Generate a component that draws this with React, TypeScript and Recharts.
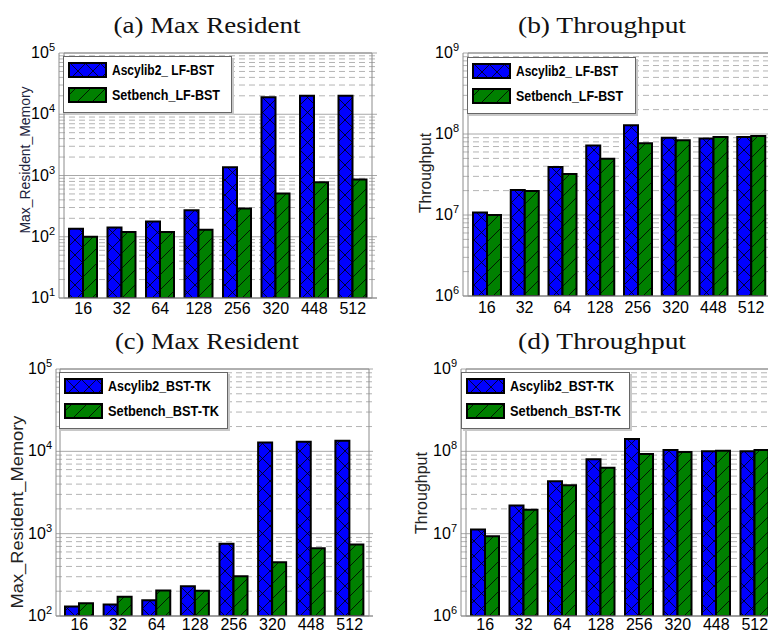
import React from "react";
import { BarChart, Bar, XAxis, YAxis, CartesianGrid, Legend, ReferenceArea } from "recharts";

// thread counts on the x axis
const threads = ["16", "32", "64", "128", "256", "320", "448", "512"];

// (a) LF-BST max resident memory
const lfMemAscylib = [135, 142, 178, 270, 1370, 19000, 20000, 20000];
const lfMemSetbench = [100, 119, 119, 130, 290, 510, 775, 860];
// (b) LF-BST throughput
const lfTputAscylib = [1.07e7, 2.04e7, 3.9e7, 7.2e7, 1.28e8, 9.0e7, 8.8e7, 9.2e7];
const lfTputSetbench = [1.0e7, 1.98e7, 3.2e7, 4.95e7, 7.7e7, 8.35e7, 9.2e7, 9.45e7];
// (c) BST-TK max resident memory
const tkMemAscylib = [130, 138, 155, 229, 755, 12800, 13100, 13400];
const tkMemSetbench = [143, 171, 204, 202, 303, 450, 667, 741];
// (d) BST-TK throughput
const tkTputAscylib = [1.12e7, 2.2e7, 4.34e7, 8.0e7, 1.41e8, 1.04e8, 1.0e8, 1.0e8];
const tkTputSetbench = [9.3e6, 1.95e7, 3.88e7, 6.3e7, 9.3e7, 9.8e7, 1.02e8, 1.04e8];

const lfNames: [string, string] = ["Ascylib2_ LF-BST", "Setbench_LF-BST"];
const tkNames: [string, string] = ["Ascylib2_BST-TK", "Setbench_BST-TK"];

const memDecadesLF = [10, 100, 1000, 10000, 100000];
const memDecadesTK = [100, 1000, 10000, 100000];
const tputDecades = [1e6, 1e7, 1e8, 1e9];

const SANS = "'Liberation Sans', Arial, sans-serif";
const SERIF = "'Liberation Serif', 'Times New Roman', serif";
const FRAME = "#8c8c8c";

function minorsOf(decades: number[]) {
  const out: number[] = [];
  for (let i = 0; i < decades.length - 1; i++) {
    for (let m = 2; m <= 9; m++) out.push(decades[i] * m);
  }
  return out;
}

function rowsOf(a: number[], s: number[]) {
  return threads.map((t, i) => ({ threads: t, ascylib: a[i], setbench: s[i] }));
}

function ThreadTick({ x, y, payload, dy }: any) {
  return (
    <text x={x} y={y + dy} textAnchor="middle" fontFamily={SANS} fontSize={16} fill="#000">
      {payload.value}
    </text>
  );
}

function PowTick({ x, y, payload }: any) {
  const exp = Math.round(Math.log10(payload.value));
  return (
    <text x={x - 4} y={y + 5} textAnchor="end" fontFamily={SANS} fontSize={16} fill="#000">
      10
      <tspan dy={-7} fontSize={11}>
        {exp}
      </tspan>
    </text>
  );
}

function LegendBox({ names, widths }: { names: [string, string]; widths: [number, number] }) {
  const fills = ["url(#hatch-cross)", "url(#hatch-diag)"];
  return (
    <svg width={172} height={60} style={{ display: "block" }}>
      <rect x={2} y={2} width={169} height={57} fill="#c8c8c8" />
      <rect x={0.5} y={0.5} width={168} height={56} fill="#fff" stroke="#666" />
      {names.map((n, i) => (
        <g key={n}>
          <rect x={6} y={7 + i * 25} width={37} height={14} fill={fills[i]} stroke="#000" strokeWidth={2} />
          <text
            x={49}
            y={19 + i * 25}
            fontFamily={SANS}
            fontWeight="bold"
            fontSize={14}
            fill="#000"
            textLength={widths[i]}
            lengthAdjust="spacingAndGlyphs"
          >
            {n}
          </text>
        </g>
      ))}
    </svg>
  );
}

type PanelProps = {
  left: number;
  top: number;
  width: number;
  plotLeft: number;
  plotRight: number;
  xAxisHeight: number;
  tickDy: number;
  pad: number;
  decades: number[];
  rows: { threads: string; ascylib: number; setbench: number }[];
  names: [string, string];
  legendLeft: number;
  legendTop: number;
  legendWidths: [number, number];
};

function Panel(p: PanelProps) {
  const lo = p.decades[0];
  const hi = p.decades[p.decades.length - 1];
  return (
    <div style={{ position: "absolute", left: p.left, top: p.top }}>
      <BarChart
        width={p.width}
        height={316}
        data={p.rows}
        margin={{ top: 53, right: p.width - p.plotRight, bottom: 0, left: 0 }}
        barCategoryGap={5}
        barGap={0}
      >
        <CartesianGrid vertical={false} horizontalValues={minorsOf(p.decades)} stroke="#b4b4b4" strokeDasharray="6 4" />
        <CartesianGrid vertical={false} horizontalValues={p.decades} stroke="#a8a8a8" />
        <ReferenceArea y1={lo} y2={hi} fill="none" stroke={FRAME} strokeWidth={1} />
        <XAxis
          dataKey="threads"
          interval={0}
          padding={{ left: p.pad, right: p.pad }}
          height={p.xAxisHeight}
          tickLine={false}
          tickSize={0}
          tickMargin={0}
          axisLine={{ stroke: FRAME }}
          tick={<ThreadTick dy={p.tickDy} />}
        />
        <YAxis
          scale="log"
          domain={[lo, hi]}
          allowDataOverflow
          ticks={p.decades}
          interval={0}
          width={p.plotLeft}
          tickLine={false}
          tickSize={0}
          tickMargin={0}
          axisLine={{ stroke: FRAME }}
          tick={<PowTick />}
        />
        <Bar dataKey="ascylib" name={p.names[0]} fill="url(#hatch-cross)" stroke="#000" strokeWidth={2} isAnimationActive={false} />
        <Bar dataKey="setbench" name={p.names[1]} fill="url(#hatch-diag)" stroke="#000" strokeWidth={2} isAnimationActive={false} />
        <Legend
          layout="horizontal"
          align="center"
          verticalAlign="middle"
          wrapperStyle={{ left: p.legendLeft, top: p.legendTop, width: 172, height: 60 }}
          content={() => <LegendBox names={p.names} widths={p.legendWidths} />}
        />
      </BarChart>
    </div>
  );
}

function Texts() {
  const titles = [
    { t: "(a) Max Resident", x: 207, y: 33, w: 187 },
    { t: "(b) Throughput", x: 602, y: 33, w: 168 },
    { t: "(c) Max Resident", x: 207, y: 349, w: 184 },
    { t: "(d) Throughput", x: 602, y: 349, w: 168 },
  ];
  const ylabels = [
    { t: "Max_Resident_Memory", x: 25, y: 160, w: 147, fs: 14, c: "#1d2540" },
    { t: "Throughput", x: 425, y: 173, w: 80, fs: 16, c: "#222" },
    { t: "Max_Resident_Memory", x: 17, y: 512, w: 193, fs: 17, c: "#222" },
    { t: "Throughput", x: 421, y: 493, w: 82, fs: 16, c: "#222" },
  ];
  return (
    <svg width={768} height={632} style={{ position: "absolute", left: 0, top: 0, pointerEvents: "none" }}>
      {titles.map((d) => (
        <text
          key={d.t + d.y}
          x={d.x}
          y={d.y}
          textAnchor="middle"
          fontFamily={SERIF}
          fontSize={23}
          fill="#111"
          textLength={d.w}
          lengthAdjust="spacingAndGlyphs"
        >
          {d.t}
        </text>
      ))}
      {ylabels.map((d) => (
        <text
          key={d.t + d.y}
          transform={`translate(${d.x},${d.y}) rotate(-90)`}
          textAnchor="middle"
          dominantBaseline="central"
          fontFamily={SANS}
          fontSize={d.fs}
          fill={d.c}
          textLength={d.w}
          lengthAdjust="spacingAndGlyphs"
        >
          {d.t}
        </text>
      ))}
    </svg>
  );
}

export default function App() {
  return (
    <div style={{ position: "absolute", left: 0, top: 0, width: 768, height: 632, overflow: "hidden", background: "#fff" }}>
      <svg width={0} height={0} style={{ position: "absolute" }}>
        <defs>
          <pattern id="hatch-cross" patternUnits="userSpaceOnUse" width={15} height={15}>
            <rect width={15} height={15} fill="#0000ff" />
            <path d="M0,0 L15,15 M15,0 L0,15" stroke="#000" strokeWidth={0.8} />
          </pattern>
          <pattern id="hatch-diag" patternUnits="userSpaceOnUse" width={15} height={15}>
            <rect width={15} height={15} fill="#008000" />
            <path d="M0,15 L15,0 M-4,4 L4,-4 M11,19 L19,11" stroke="#000" strokeWidth={0.8} />
          </pattern>
        </defs>
      </svg>
      <Panel
        left={0}
        top={0}
        width={384}
        plotLeft={59}
        plotRight={377}
        xAxisHeight={18}
        tickDy={16}
        pad={5}
        decades={memDecadesLF}
        rows={rowsOf(lfMemAscylib, lfMemSetbench)}
        names={lfNames}
        legendLeft={63}
        legendTop={56}
        legendWidths={[102, 108]}
      />
      <Panel
        left={384}
        top={0}
        width={400}
        plotLeft={79}
        plotRight={391}
        xAxisHeight={20}
        tickDy={17}
        pad={5}
        decades={tputDecades}
        rows={rowsOf(lfTputAscylib, lfTputSetbench)}
        names={lfNames}
        legendLeft={83}
        legendTop={57}
        legendWidths={[102, 107]}
      />
      <Panel
        left={0}
        top={316}
        width={384}
        plotLeft={56}
        plotRight={373}
        xAxisHeight={16}
        tickDy={14}
        pad={4}
        decades={memDecadesTK}
        rows={rowsOf(tkMemAscylib, tkMemSetbench)}
        names={tkNames}
        legendLeft={59}
        legendTop={56}
        legendWidths={[103, 111]}
      />
      <Panel
        left={384}
        top={316}
        width={400}
        plotLeft={77}
        plotRight={395}
        xAxisHeight={16}
        tickDy={14}
        pad={5}
        decades={tputDecades}
        rows={rowsOf(tkTputAscylib, tkTputSetbench)}
        names={tkNames}
        legendLeft={77}
        legendTop={56}
        legendWidths={[104, 111]}
      />
      <Texts />
    </div>
  );
}
